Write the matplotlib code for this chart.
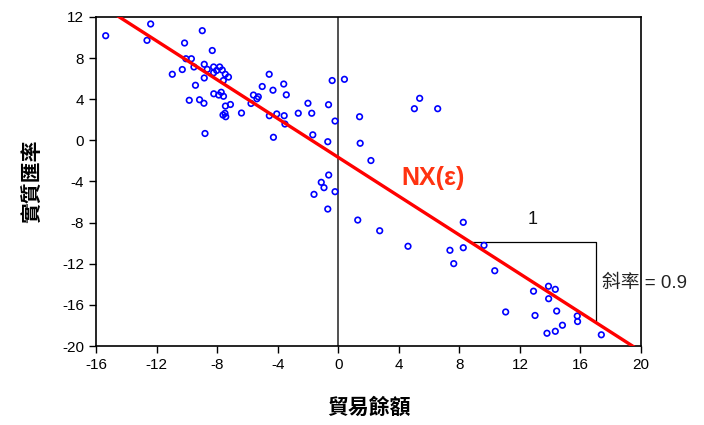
import matplotlib
matplotlib.use("Agg")
import matplotlib.pyplot as plt
import numpy as np

plt.rcParams['axes.unicode_minus'] = False
plt.rcParams['font.family'] = ['Liberation Sans', 'Noto Sans CJK TC', 'DejaVu Sans']

# Scatter data (trade balance, real exchange rate)
trade_balance = [
    -15.36, -12.39, -12.63, -8.98, -10.15, -8.32, -10.06, -9.70, -10.96, -10.30,
    -9.53, -8.85, -8.65, -8.23, -7.83, -8.03, -8.23, -7.66, -7.46, -7.25,
    -7.59, -8.85, -9.43, -9.84, -9.16, -8.87, -8.22, -7.89, -7.73, -7.58,
    -7.45, -7.12, -7.61, -7.48, -7.43, -6.39, -8.80, -4.56, -5.02, -4.31,
    -3.60, -3.43, -5.60, -5.28, -5.37, -5.76, -4.55, -4.06, -3.57, -3.52,
    -4.28, -2.64, -2.00, -1.75, -0.64, -0.40, 0.41, -0.21, -1.68, -0.69,
    1.41, 1.45, 2.16, 5.38, 5.03, 6.57, -0.63, -1.12, -0.94, -1.60,
    -0.21, -0.69, 1.29, 2.74, 4.61, 7.38, 7.63, 8.26, 8.26, 9.63,
    10.34, 12.90, 13.89, 14.34, 13.90, 11.06, 13.00, 14.43, 15.79, 15.81,
    14.81, 13.79, 14.34, 17.38,
]
real_exchange_rate = [
    10.18, 11.32, 9.73, 10.67, 9.47, 8.74, 7.94, 7.94, 6.43, 6.89,
    7.14, 7.40, 6.91, 7.14, 7.14, 6.80, 6.58, 6.84, 6.43, 6.16,
    5.82, 6.07, 5.36, 3.90, 3.95, 3.61, 4.53, 4.41, 4.68, 4.29,
    3.34, 3.49, 2.47, 2.63, 2.30, 2.66, 0.67, 6.43, 5.24, 4.88,
    5.48, 4.43, 4.41, 4.24, 4.05, 3.59, 2.40, 2.57, 2.40, 1.59,
    0.30, 2.64, 3.61, 2.64, 3.47, 5.82, 5.94, 1.88, 0.54, -0.13,
    2.30, -0.28, -1.96, 4.09, 3.08, 3.08, -3.37, -4.08, -4.60, -5.25,
    -4.99, -6.68, -7.75, -8.79, -10.30, -10.69, -11.99, -7.97, -10.44, -10.21,
    -12.68, -14.67, -14.19, -14.49, -15.40, -16.69, -17.03, -16.60, -17.08, -17.62,
    -17.98, -18.76, -18.57, -18.91,
]

# Fitted line: y = intercept + slope * x
fit_intercept = -1.65
fit_slope = -0.944

x_ticks = [-16, -12, -8, -4, 0, 4, 8, 12, 16, 20]
y_ticks = [-20, -16, -12, -8, -4, 0, 4, 8, 12]

# slope triangle
tri_x0 = 8.74
tri_x1 = 17.0

fig = plt.figure(figsize=(7.04, 4.25), dpi=100)
ax = fig.add_axes([96/704, 1-346/425, (641-96)/704, (346-17)/425])

ax.set_xlim(-16, 20)
ax.set_ylim(-20, 12)

ax.axvline(0, color='#333333', lw=1.2, zorder=1)

ax.scatter(trade_balance, real_exchange_rate, s=16, facecolors='none',
           edgecolors='#0000FF', linewidths=1.2, zorder=3)

xs = np.array([-16, 20])
ax.plot(xs, fit_intercept + fit_slope * xs, color='#FF0000', lw=2.4, zorder=4)

y0 = fit_intercept + fit_slope * tri_x0
y1 = fit_intercept + fit_slope * tri_x1
ax.plot([tri_x0, tri_x1, tri_x1], [y0, y0, y1], color='black', lw=0.9, zorder=2)

ax.text((tri_x0 + tri_x1) / 2, y0 + 2.2, '1', fontsize=13,
        ha='center', va='center', color='#111111')
ax.text(tri_x1 + 0.45, -13.9, '斜率 = 0.9', fontsize=13.5, ha='left', va='center',
        family=['Liberation Sans', 'Noto Sans CJK TC'], color='#222222',
        clip_on=False)

ax.text(4.2, -3.7, 'NX(ε)', fontsize=18, fontweight='bold', color='#FF3311',
        ha='left', va='center')

ax.set_xticks(x_ticks)
ax.set_yticks(y_ticks)
ax.set_xticklabels([str(t) for t in x_ticks], fontsize=11)
ax.set_yticklabels([str(t) for t in y_ticks], fontsize=11)
ax.tick_params(direction='out', length=5, width=1, top=False, right=False)
for sp in ax.spines.values():
    sp.set_linewidth(1.2)

ax.set_xlabel('貿易餘額', fontsize=15, fontweight='bold',
              family=['Noto Sans CJK TC'], labelpad=18)
ax.set_ylabel('實質匯率', fontsize=15, fontweight='bold',
              family=['Noto Sans CJK TC'], labelpad=14)

fig.savefig('out.png', dpi=100)
